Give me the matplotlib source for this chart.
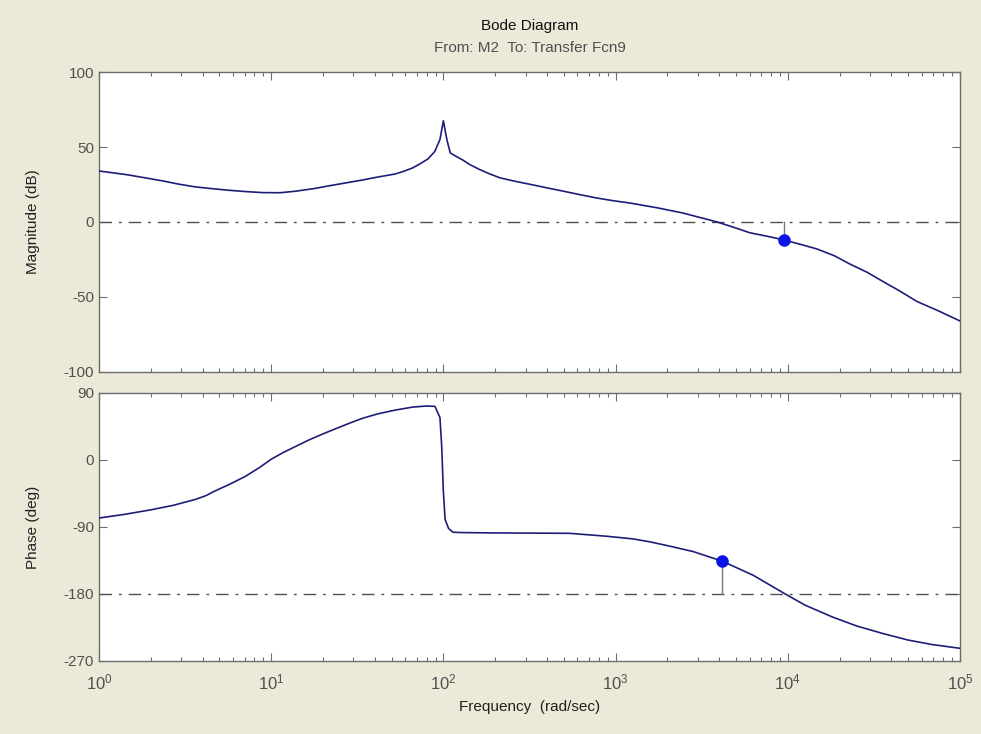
import numpy as np
import matplotlib
matplotlib.use("Agg")
import matplotlib.pyplot as plt
from matplotlib.ticker import LogLocator, NullFormatter, FixedLocator

plt.rcParams['font.family'] = ['Liberation Sans', 'DejaVu Sans']
plt.rcParams['mathtext.default'] = 'regular'
plt.rcParams['axes.unicode_minus'] = False

# magnitude (log10 of rad/sec, dB)
mag_exp = [0.0, 0.08, 0.17, 0.27, 0.37, 0.46, 0.56, 0.65, 0.75, 0.85, 0.95, 1.05,
           1.14, 1.25, 1.33, 1.43, 1.53, 1.62, 1.72, 1.77, 1.82, 1.86, 1.91, 1.95,
           1.98, 2.0, 2.02, 2.04, 2.07, 2.11, 2.15, 2.21, 2.27, 2.33, 2.41, 2.50,
           2.60, 2.69, 2.79, 2.89, 2.98, 3.08, 3.24, 3.39, 3.49, 3.59, 3.69, 3.78,
           3.88, 3.98, 4.07, 4.17, 4.27, 4.36, 4.46, 4.55, 4.65, 4.75, 4.87, 5.0]
mag_db = [34, 32.8, 31.4, 29.4, 27.4, 25.3, 23.4, 22.3, 21.2, 20.3, 19.6, 19.5,
          20.5, 22.3, 24, 26, 28, 30, 32, 33.8, 36, 38.5, 42, 47,
          55, 67.5, 55, 46, 44, 41.5, 38.5, 35, 32, 29.4, 27.3, 25.2,
          22.8, 20.7, 18.3, 16, 14.3, 12.7, 9.5, 6, 3, 0, -3.7, -7.2,
          -9.5, -12, -14.8, -18, -22.5, -28, -33.5, -39.5, -46, -53, -59, -66]

# phase (log10 of rad/sec, deg)
ph_exp = [0.0, 0.15, 0.3, 0.43, 0.56, 0.62, 0.67, 0.76, 0.85, 0.93, 1.0, 1.07,
          1.14, 1.22, 1.30, 1.38, 1.45, 1.53, 1.62, 1.72, 1.82, 1.90, 1.951, 1.98,
          1.99, 2.0, 2.01, 2.03, 2.055, 2.1, 2.3, 2.73, 2.87, 2.95, 3.1, 3.2,
          3.30, 3.45, 3.62, 3.8, 3.97, 4.1, 4.26, 4.4, 4.55, 4.7, 4.84, 5.0]
ph_deg = [-78, -73, -67, -61, -53, -48, -42, -32.5, -22, -10.5, 1, 10,
          18, 27, 35, 42.5, 49, 56, 62, 67, 71, 72.5, 72, 57,
          19, -43, -80, -92, -97, -97.5, -98, -98.5, -101, -102.5, -106, -110,
          -115, -123, -136, -155, -178, -195, -211, -223, -233, -242, -248, -253]

# margins: gain margin point and phase margin point
gm_exp, gm_db = 3.98, -12
pm_exp, pm_deg = 3.62, -136

mag_ticks = [-100, -50, 0, 50, 100]
ph_ticks = [-270, -180, -90, 0, 90]
x_exps = [0, 1, 2, 3, 4, 5]

bg = '#ECE9D8'
axc = '#6e6e6e'
txtc = '#505050'
linec = '#1e1e78'
dash = (0, (9, 5, 2, 5))

fig = plt.figure(figsize=(9.81, 7.34), dpi=100, facecolor=bg)
ax1 = fig.add_axes([0.1009, 0.4932, 0.8777, 0.4087])
ax2 = fig.add_axes([0.1009, 0.0995, 0.8777, 0.3651])

for ax in (ax1, ax2):
    ax.set_xscale('log')
    ax.set_xlim(1, 1e5)
    ax.set_facecolor('white')
    ax.tick_params(which='both', direction='in', top=True, right=True,
                   colors=axc, labelcolor=txtc, labelsize=11)
    ax.tick_params(which='major', length=6, width=0.8)
    ax.tick_params(which='minor', length=3, width=0.8)
    ax.xaxis.set_minor_locator(LogLocator(base=10, subs=np.arange(2, 10)))
    ax.xaxis.set_minor_formatter(NullFormatter())
    for s in ax.spines.values():
        s.set_color(axc)
        s.set_linewidth(1.0)

w = 10 ** np.array(mag_exp)
ax1.plot(w, mag_db, color=linec, lw=1.2, zorder=3)
ax1.axhline(0, color='#505050', lw=1.0, ls=dash, zorder=2)
ax1.plot([10 ** gm_exp] * 2, [0, gm_db], color='#777777', lw=1.0, zorder=2)
ax1.plot(10 ** gm_exp, gm_db, 'o', color='#0a14e6', ms=8, zorder=4)
ax1.set_ylim(-100, 100)
ax1.yaxis.set_major_locator(FixedLocator(mag_ticks))
ax1.tick_params(axis='x', which='both', labelbottom=False)
ax1.set_ylabel('Magnitude (dB)', fontsize=11, color='#202020')
ax1.yaxis.set_label_coords(-0.0685, 0.5)

wp = 10 ** np.array(ph_exp)
ax2.plot(wp, ph_deg, color=linec, lw=1.2, zorder=3)
ax2.axhline(-180, color='#505050', lw=1.0, ls=dash, zorder=2)
ax2.plot([10 ** pm_exp] * 2, [-180, pm_deg], color='#777777', lw=1.0, zorder=2)
ax2.plot(10 ** pm_exp, pm_deg, 'o', color='#0a14e6', ms=8, zorder=4)
ax2.set_ylim(-270, 90)
ax2.yaxis.set_major_locator(FixedLocator(ph_ticks))
ax2.set_xticks([10.0 ** e for e in x_exps])
ax2.set_xticklabels(['$10^{%d}$' % e for e in x_exps])
ax2.tick_params(axis='x', which='major', pad=8, labelsize=12)
ax2.set_ylabel('Phase (deg)', fontsize=11, color='#202020')
ax2.yaxis.set_label_coords(-0.068, 0.5)
ax2.set_xlabel('Frequency  (rad/sec)', fontsize=11, color='#202020', labelpad=6)

fig.text(0.5397, 0.965, 'Bode Diagram', ha='center', va='center', fontsize=11, color='#101010')
fig.text(0.5397, 0.934, 'From: M2  To: Transfer Fcn9', ha='center', va='center',
         fontsize=11, color='#505050')

fig.savefig('out.png', dpi=100, facecolor=bg)
